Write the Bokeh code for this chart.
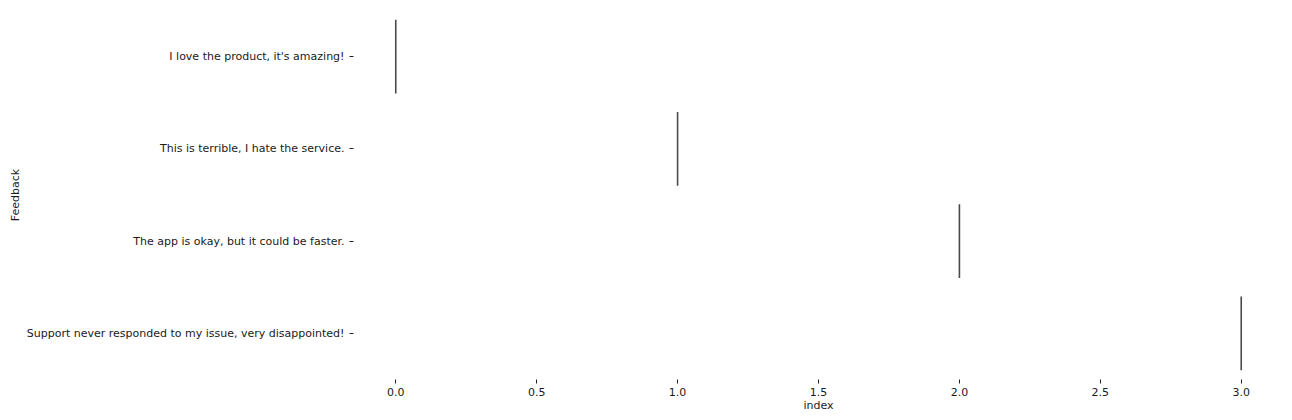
from bokeh.plotting import figure
from bokeh.models import ColumnDataSource, FactorRange, Range1d, FixedTicker, PrintfTickFormatter
from bokeh.embed import file_html
from bokeh.resources import INLINE

feedback = [
    "I love the product, it's amazing!",
    "This is terrible, I hate the service.",
    "The app is okay, but it could be faster.",
    "Support never responded to my issue, very disappointed!",
]
index_values = [0, 1, 2, 3]
x_ticks = [0.0, 0.5, 1.0, 1.5, 2.0, 2.5, 3.0]

FONT = "DejaVu Sans"
FS = "11px"

p = figure(
    width=1284, height=414,
    y_range=FactorRange(factors=list(reversed(feedback))),
    x_range=Range1d(-0.15, 3.15),
    output_backend="svg", toolbar_location=None,
    min_border_left=353, min_border_right=1, min_border_top=10, min_border_bottom=35,
)
p.outline_line_color = None
p.grid.visible = False

src = ColumnDataSource(dict(
    x=index_values,
    y0=[(f, -0.4) for f in feedback],
    y1=[(f, 0.4) for f in feedback],
))
p.segment(x0="x", x1="x", y0="y0", y1="y1", source=src, line_color="#4a4a4a", line_width=1.6)

for ax in (p.xaxis[0], p.yaxis[0]):
    ax.axis_line_color = None
    ax.major_tick_in = 0
    ax.major_tick_out = 4
    ax.major_tick_line_color = "#222222"
    ax.minor_tick_line_color = None
    ax.major_label_text_font = FONT
    ax.major_label_text_font_size = FS
    ax.major_label_text_color = "#1a1a1a"
    ax.axis_label_text_font = FONT
    ax.axis_label_text_font_size = FS
    ax.axis_label_text_font_style = "normal"
    ax.axis_label_text_color = "#1a1a1a"

p.xaxis.ticker = FixedTicker(ticks=x_ticks)
p.xaxis.formatter = PrintfTickFormatter(format="%.1f")
p.xaxis.axis_label = "index"
p.xaxis.major_label_standoff = 4
p.xaxis.axis_label_standoff = 0
p.yaxis.axis_label = "Feedback"
p.yaxis.major_label_standoff = 5
p.yaxis.axis_label_standoff = 2

open("out.html", "w").write(file_html(p, INLINE))
